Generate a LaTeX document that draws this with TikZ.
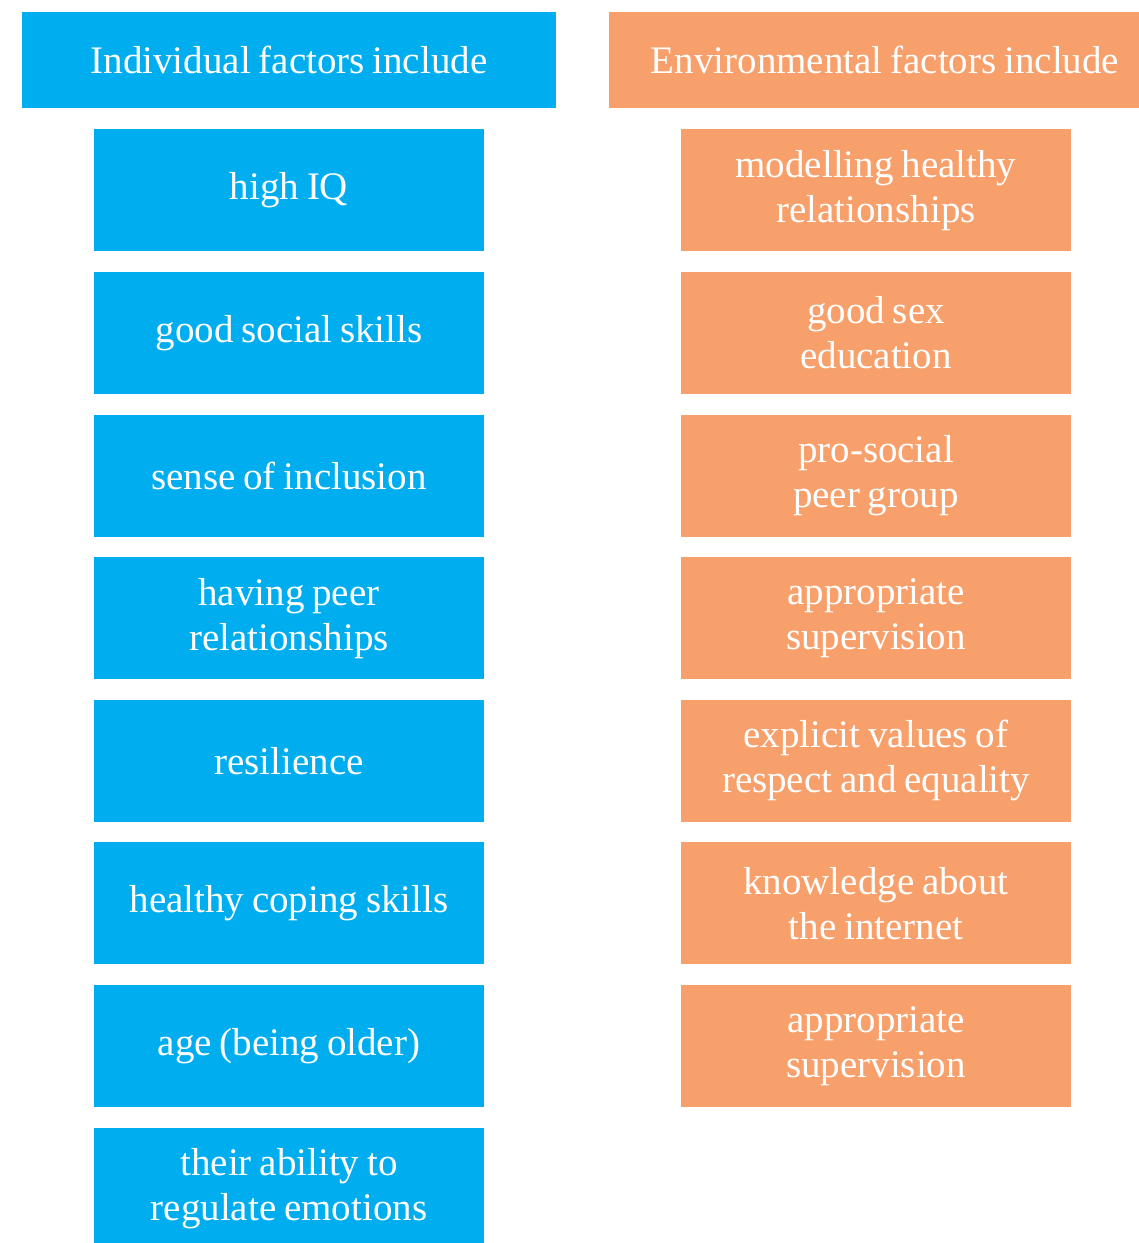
\documentclass[tikz,border=0pt]{standalone}
\usepackage{fontspec}
\setmainfont[WordSpace=0.8]{Liberation Serif}
\usepackage{tikz}
\usetikzlibrary{positioning}
\usepackage{xcolor}
\definecolor{skyblue}{RGB}{0,174,239}
\definecolor{peach}{RGB}{248,160,108}

\begin{document}
\begin{tikzpicture}[
	x=1pt, y=1pt,
	node distance=20.2pt,
	every node/.style={
		text=white,
		font=\fontsize{39}{45}\selectfont,
		align=center,
		inner sep=0pt
	},
	head/.style={
		minimum height=96pt,
		anchor=center
	},
	factor/.style={
		minimum width=390pt,
		minimum height=122pt
	},
	indiv/.style={factor, fill=skyblue},
	envir/.style={factor, fill=peach}
	]
	
	\useasboundingbox (0,0) rectangle (1139,-1243);
	
	% Cabeceras
	\node[head, fill=skyblue, minimum width=534pt] (hdrL) at (289,-60) {Individual factors include};
	\node[head, fill=peach, minimum width=552pt] (hdrR) at (885,-60) {Environmental factors include};
	
	% Columna izquierda
	\node[indiv, below=21pt of hdrL] (ind1) {high IQ};
	\node[indiv, below=of ind1] (ind2) {good social skills};
	\node[indiv, below=of ind2] (ind3) {sense of inclusion};
	\node[indiv, below=of ind3] (ind4) {having peer\\ relationships};
	\node[indiv, below=of ind4] (ind5) {resilience};
	\node[indiv, below=of ind5] (ind6) {healthy coping skills};
	\node[indiv, below=of ind6] (ind7) {age (being older)};
	\node[indiv, below=of ind7] (ind8) {their ability to\\ regulate emotions};
	
	% Columna derecha
	\node[envir, below=21pt of hdrR, xshift=-9pt] (env1) {modelling healthy\\ relationships};
	\node[envir, below=of env1] (env2) {good sex\\ education};
	\node[envir, below=of env2] (env3) {pro-social\\ peer group};
	\node[envir, below=of env3] (env4) {appropriate\\ supervision};
	\node[envir, below=of env4] (env5) {explicit values of\\ respect and equality};
	\node[envir, below=of env5] (env6) {knowledge about\\ the internet};
	\node[envir, below=of env6] (env7) {appropriate\\ supervision};
	
\end{tikzpicture}
\end{document}
